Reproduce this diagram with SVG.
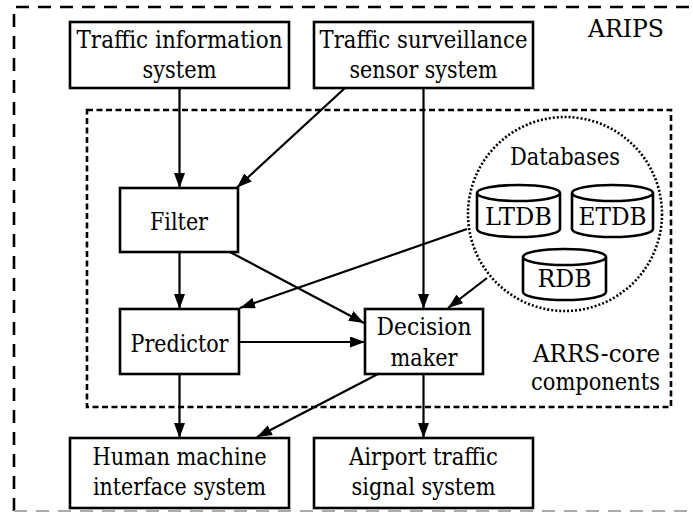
<svg xmlns="http://www.w3.org/2000/svg" width="693" height="512" viewBox="0 0 693 512">
  <style>
    text { font-family: "DejaVu Serif", serif; font-size: 24px; fill: #000; }
    .mid { text-anchor: middle; }
    .end { text-anchor: end; }
    .box { fill: #fff; stroke: #000; stroke-width: 2.6; }
    .db { fill: #fff; stroke: #000; stroke-width: 2.6; }
    .edge { fill: none; stroke: #000; stroke-width: 2.2; marker-end: url(#arrow); }
    .outer { fill: none; stroke: #000; stroke-width: 2.6; stroke-dasharray: 13 9; }
    .inner { fill: none; stroke: #000; stroke-width: 2.6; stroke-dasharray: 6 3.5; }
    .ring { fill: none; stroke: #000; stroke-width: 2.6; stroke-dasharray: 2 2; }
  </style>
  <defs>
    <marker id="arrow" markerUnits="userSpaceOnUse" markerWidth="15" markerHeight="11" refX="15" refY="5.5" orient="auto">
      <path d="M0,0 L15,5.5 L0,11 z" fill="#000"/>
    </marker>
  </defs>

  <rect width="693" height="512" fill="#fff"/>

  <!-- ARIPS system boundary (right side runs off the page) -->
  <g id="arips">
    <path class="outer" d="M14,511 V7 H700"/>
    <path d="M14,511 H700" fill="none" stroke="#aaa" stroke-width="2" stroke-dasharray="13 9"/>
    <text x="626" y="37" class="mid" textLength="76" lengthAdjust="spacingAndGlyphs">ARIPS</text>
  </g>

  <!-- ARRS-core component boundary -->
  <g id="arrs-core">
    <rect class="inner" x="87" y="110" width="584" height="297"/>
    <text x="660" y="362" class="end" textLength="127" lengthAdjust="spacingAndGlyphs">ARRS-core</text>
    <text x="660" y="390" class="end" textLength="129" lengthAdjust="spacingAndGlyphs">components</text>
  </g>

  <!-- connectors -->
  <g id="connectors">
    <path class="edge" d="M179.5,88 V188"/>
    <path class="edge" d="M345,88 L237,187.5"/>
    <path class="edge" d="M423.5,88 V309"/>
    <path class="edge" d="M179.5,252 V309"/>
    <path class="edge" d="M230,252 L364,323"/>
    <path class="edge" d="M467,229 L240,308"/>
    <path class="edge" d="M487,278 L448,308"/>
    <path class="edge" d="M239,342 H365"/>
    <path class="edge" d="M179.5,374 V438"/>
    <path class="edge" d="M378,374 L257,437"/>
    <path class="edge" d="M423.5,374 V438"/>
  </g>

  <g id="traffic-information-system">
    <rect class="box" x="70" y="22" width="219" height="66"/>
    <text x="179.5" y="48" class="mid" textLength="206" lengthAdjust="spacingAndGlyphs">Traffic information</text>
    <text x="179.5" y="78" class="mid" textLength="74" lengthAdjust="spacingAndGlyphs">system</text>
  </g>

  <g id="traffic-surveillance-sensor-system">
    <rect class="box" x="314" y="22" width="219" height="66"/>
    <text x="423.5" y="48" class="mid" textLength="208" lengthAdjust="spacingAndGlyphs">Traffic surveillance</text>
    <text x="423.5" y="78" class="mid" textLength="148" lengthAdjust="spacingAndGlyphs">sensor system</text>
  </g>

  <g id="filter">
    <rect class="box" x="120" y="188" width="118" height="64"/>
    <text x="179" y="230" class="mid" textLength="58" lengthAdjust="spacingAndGlyphs">Filter</text>
  </g>

  <g id="predictor">
    <rect class="box" x="120" y="309" width="119" height="65"/>
    <text x="179.5" y="352" class="mid" textLength="98" lengthAdjust="spacingAndGlyphs">Predictor</text>
  </g>

  <g id="decision-maker">
    <rect class="box" x="365" y="309" width="118" height="65"/>
    <text x="424" y="335" class="mid" textLength="95" lengthAdjust="spacingAndGlyphs">Decision</text>
    <text x="424" y="366" class="mid" textLength="67" lengthAdjust="spacingAndGlyphs">maker</text>
  </g>

  <g id="databases">
    <circle class="ring" cx="565" cy="214" r="97"/>
    <text x="565" y="165" class="mid" textLength="110" lengthAdjust="spacingAndGlyphs">Databases</text>
  </g>

  <g id="ltdb">
    <path class="db" d="M477,193 V229 A41.5,8 0 0 0 560,229 V193 A41.5,8 0 0 0 477,193 Z"/>
    <path class="db" d="M477,193 A41.5,8 0 0 0 560,193"/>
    <text x="518.5" y="225" class="mid" textLength="67" lengthAdjust="spacingAndGlyphs">LTDB</text>
  </g>

  <g id="etdb">
    <path class="db" d="M572,193 V229 A40.5,8 0 0 0 653,229 V193 A40.5,8 0 0 0 572,193 Z"/>
    <path class="db" d="M572,193 A40.5,8 0 0 0 653,193"/>
    <text x="612.5" y="225" class="mid" textLength="68" lengthAdjust="spacingAndGlyphs">ETDB</text>
  </g>

  <g id="rdb">
    <path class="db" d="M523,257 V292 A41.5,8 0 0 0 606,292 V257 A41.5,8 0 0 0 523,257 Z"/>
    <path class="db" d="M523,257 A41.5,8 0 0 0 606,257"/>
    <text x="564.5" y="287" class="mid" textLength="54" lengthAdjust="spacingAndGlyphs">RDB</text>
  </g>

  <g id="human-machine-interface-system">
    <rect class="box" x="70" y="438" width="219" height="70"/>
    <text x="179.5" y="465" class="mid" textLength="174" lengthAdjust="spacingAndGlyphs">Human machine</text>
    <text x="179.5" y="495" class="mid" textLength="173" lengthAdjust="spacingAndGlyphs">interface system</text>
  </g>

  <g id="airport-traffic-signal-system">
    <rect class="box" x="314" y="438" width="219" height="70"/>
    <text x="423.5" y="465" class="mid" textLength="149" lengthAdjust="spacingAndGlyphs">Airport traffic</text>
    <text x="423.5" y="495" class="mid" textLength="144" lengthAdjust="spacingAndGlyphs">signal system</text>
  </g>
</svg>
